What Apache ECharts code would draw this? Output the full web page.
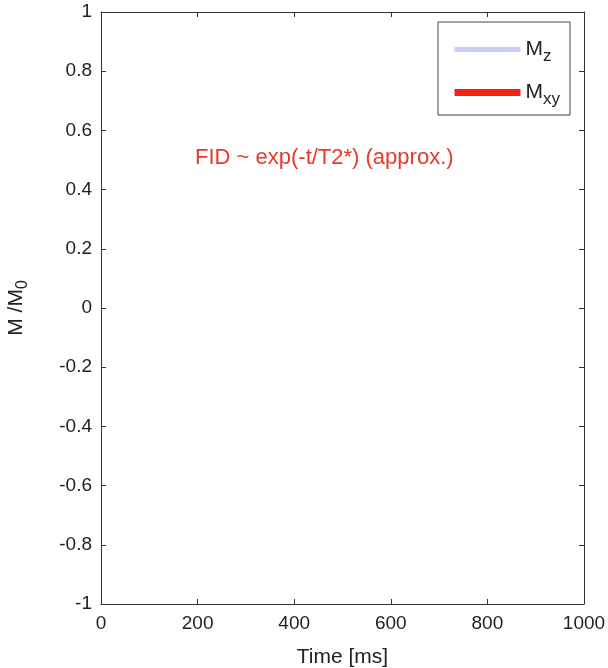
<!DOCTYPE html>
<html><head><meta charset="utf-8">
<script src="https://cdn.jsdelivr.net/npm/echarts@6/dist/echarts.min.js"></script>
<style>html,body{margin:0;padding:0;background:#fff}#c{width:608px;height:668px}</style>
</head><body><div id="c"></div>
<script>
const seriesNames = ['Mz', 'Mxy'];
const mzData = [];
const mxyData = [];
const xTicks = [0, 200, 400, 600, 800, 1000];
const yTicks = [-1, -0.8, -0.6, -0.4, -0.2, 0, 0.2, 0.4, 0.6, 0.8, 1];
const annotation = 'FID ~ exp(-t/T2*) (approx.)';

const font = '"Liberation Sans", Arial, Helvetica, sans-serif';
const axisCol = '#333';
const chart = echarts.init(document.getElementById('c'));
const baseAxis = {
  axisLine: { show: true, onZero: false, lineStyle: { color: axisCol, width: 1 } },
  axisTick: { show: true, inside: true, length: 5, lineStyle: { color: axisCol } },
  splitLine: { show: false }
};
chart.setOption({
  animation: false,
  textStyle: { fontFamily: font },
  grid: { left: 101, right: 24, top: 12, bottom: 64, outerBoundsMode: 'none', containLabel: false },
  legend: {
    orient: 'vertical', right: 38, top: 22,
    borderColor: '#444', borderWidth: 1,
    padding: [17, 10, 7, 13],
    itemWidth: 66, itemHeight: 16, itemGap: 17,
    lineStyle: { width: 'inherit' },
    itemStyle: { opacity: 0 },
    data: seriesNames,
    formatter: n => 'M{s|' + n.slice(1) + '}',
    textStyle: {
      fontFamily: font, fontSize: 21, color: '#222',
      rich: { s: { fontSize: 17, color: '#222', padding: [14, 0, 0, 0], fontFamily: font } }
    }
  },
  xAxis: [
    Object.assign({}, baseAxis, {
      type: 'value', min: 0, max: 1000, interval: 200,
      axisLabel: { fontSize: 19, color: '#222', margin: 10, fontFamily: font,
        formatter: v => String(v) },
      name: 'Time [ms]', nameLocation: 'middle', nameGap: 43,
      nameTextStyle: { fontSize: 21, color: '#222', fontFamily: font }
    }),
    Object.assign({}, baseAxis, {
      type: 'value', min: 0, max: 1000, interval: 200, position: 'top',
      axisLabel: { show: false }
    })
  ],
  yAxis: [
    Object.assign({}, baseAxis, {
      type: 'value', min: -1, max: 1, interval: 0.2,
      axisLabel: { fontSize: 19, color: '#222', margin: 9, fontFamily: font,
        formatter: v => String(Math.round(v * 10) / 10) },
      name: 'M /M{s|0}', nameLocation: 'middle', nameGap: 70, nameRotate: 90,
      nameTextStyle: { fontSize: 21, color: '#222', fontFamily: font,
        rich: { s: { fontSize: 16, color: '#222', padding: [13, 0, 0, 0], fontFamily: font } } }
    }),
    Object.assign({}, baseAxis, {
      type: 'value', min: -1, max: 1, interval: 0.2, position: 'right',
      axisLabel: { show: false }
    })
  ],
  series: [
    { name: seriesNames[0], type: 'line', data: mzData, symbol: 'none', color: '#c9cdf4',
      lineStyle: { width: 5, color: '#c9cdf4' } },
    { name: seriesNames[1], type: 'line', data: mxyData, symbol: 'none', color: '#f5220f',
      lineStyle: { width: 7, color: '#f5220f' } }
  ],
  graphic: [{
    type: 'text', left: 195, top: 147,
    style: { text: annotation, fontSize: 22, fill: '#e8382a', fontFamily: font }
  }]
});
</script></body></html>
